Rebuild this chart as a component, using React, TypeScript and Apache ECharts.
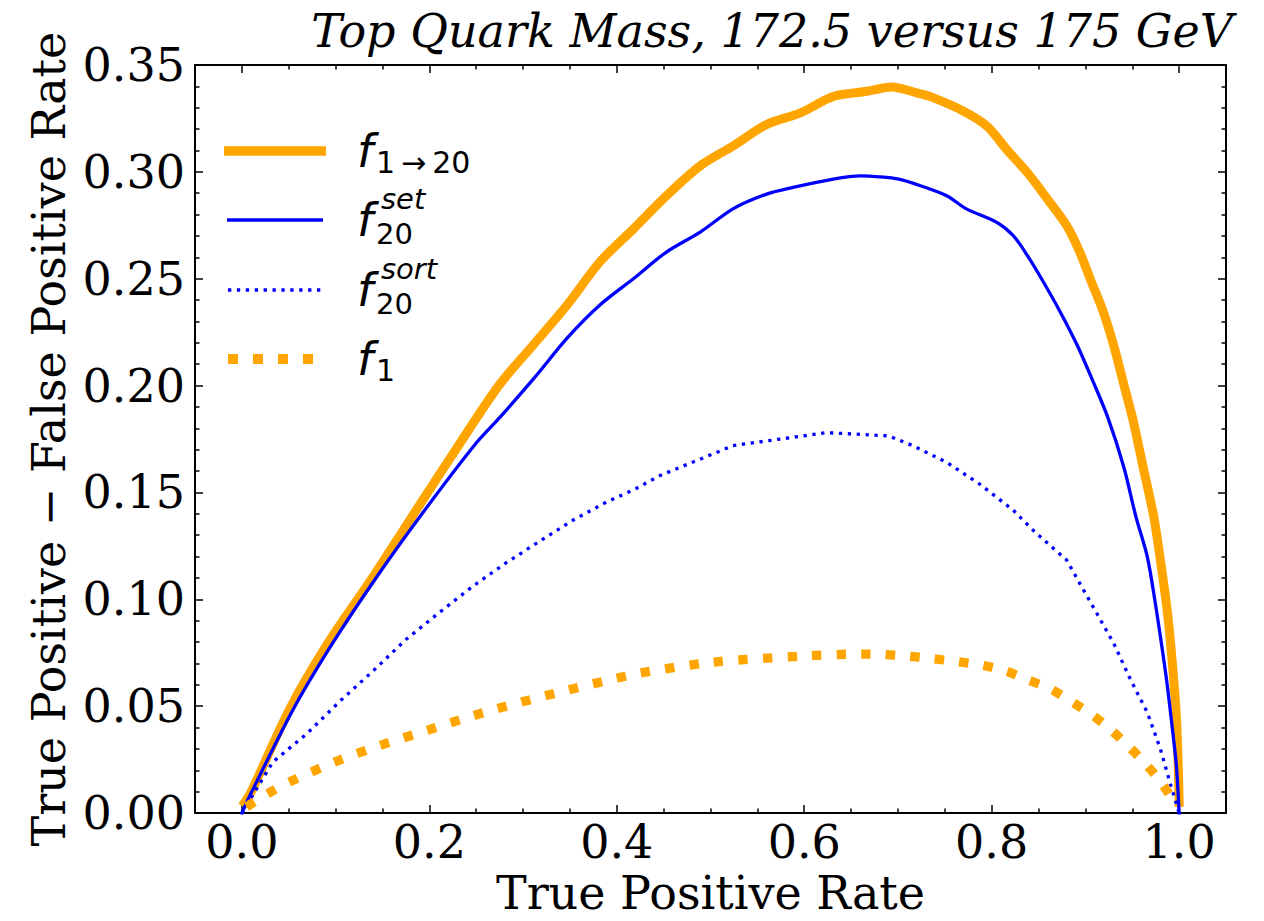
import React, { useEffect, useRef } from "react";
import * as echarts from "echarts";

// ---- tick values ----
const xMajorTicks = [0, 0.2, 0.4, 0.6, 0.8, 1.0];
const xMinorTicks = [0.05, 0.1, 0.15, 0.25, 0.3, 0.35, 0.45, 0.5, 0.55, 0.65, 0.7, 0.75, 0.85, 0.9, 0.95];

// ---- f_{1->20} (orange, thick solid) ----
const f120X = [0.003, 0.010, 0.051, 0.092, 0.140, 0.186, 0.232, 0.275, 0.311, 0.347, 0.382, 0.418, 0.453, 0.489, 0.524, 0.560, 0.596, 0.631, 0.667, 0.693, 0.720, 0.734, 0.770, 0.795, 0.816, 0.838, 0.862, 0.880, 0.894, 0.905, 0.919, 0.930, 0.941, 0.951, 0.962, 0.973, 0.981, 0.988, 0.993, 0.997, 0.999, 1.0];
const f120Y = [0.005, 0.010, 0.0487, 0.0796, 0.1106, 0.1417, 0.1726, 0.2005, 0.2191, 0.2377, 0.2579, 0.2734, 0.2888, 0.3028, 0.3121, 0.3222, 0.3276, 0.3353, 0.3377, 0.3397, 0.3370, 0.3353, 0.3284, 0.3214, 0.3105, 0.2997, 0.2858, 0.2749, 0.2625, 0.2501, 0.2346, 0.2191, 0.2005, 0.1835, 0.1610, 0.1385, 0.1153, 0.0920, 0.0688, 0.0456, 0.0223, 0.005];

// ---- f_20^set (blue, solid) ----
const fSetX = [0.0, 0.010, 0.055, 0.097, 0.144, 0.195, 0.249, 0.275, 0.312, 0.347, 0.382, 0.418, 0.453, 0.489, 0.524, 0.560, 0.588, 0.631, 0.660, 0.680, 0.701, 0.724, 0.752, 0.773, 0.805, 0.823, 0.838, 0.855, 0.873, 0.891, 0.908, 0.924, 0.941, 0.954, 0.966, 0.974, 0.981, 0.987, 0.992, 0.997, 1.0];
const fSetY = [0.0, 0.0095, 0.0487, 0.0796, 0.1106, 0.1417, 0.1726, 0.1850, 0.2036, 0.2222, 0.2377, 0.2501, 0.2625, 0.2718, 0.2827, 0.2896, 0.2927, 0.2966, 0.2981, 0.2977, 0.2966, 0.2935, 0.2888, 0.2827, 0.2765, 0.2702, 0.2609, 0.2486, 0.2346, 0.2191, 0.2021, 0.1850, 0.1618, 0.1385, 0.1200, 0.0998, 0.0796, 0.0610, 0.0424, 0.0223, 0.0];

// ---- f_20^sort (blue, dotted) ----
const fSortX = [0.0, 0.033, 0.069, 0.105, 0.140, 0.175, 0.210, 0.246, 0.281, 0.317, 0.353, 0.389, 0.420, 0.446, 0.524, 0.623, 0.690, 0.716, 0.752, 0.787, 0.823, 0.844, 0.866, 0.880, 0.894, 0.912, 0.930, 0.948, 0.966, 0.980, 0.990, 1.0];
const fSortY = [0.0, 0.0239, 0.0370, 0.0525, 0.0665, 0.0812, 0.0936, 0.1060, 0.1168, 0.1270, 0.1370, 0.1455, 0.1517, 0.1579, 0.1719, 0.1780, 0.1765, 0.1719, 0.1641, 0.1540, 0.1417, 0.1324, 0.1238, 0.1184, 0.1075, 0.0936, 0.0796, 0.0626, 0.0471, 0.0300, 0.0146, 0.0];

// ---- f_1 (orange, dotted) ----
const f1X = [0.005, 0.028, 0.051, 0.099, 0.147, 0.197, 0.247, 0.296, 0.348, 0.398, 0.423, 0.500, 0.600, 0.660, 0.684, 0.708, 0.736, 0.762, 0.788, 0.813, 0.837, 0.862, 0.884, 0.906, 0.926, 0.946, 0.964, 0.981, 0.995];
const f1Y = [0.003, 0.0092, 0.0146, 0.0239, 0.0316, 0.0386, 0.0456, 0.0517, 0.0576, 0.0629, 0.0654, 0.0705, 0.0735, 0.0744, 0.0742, 0.0735, 0.0723, 0.0709, 0.0693, 0.0668, 0.0626, 0.0582, 0.0525, 0.0463, 0.0394, 0.0313, 0.0231, 0.0143, 0.005];

const ORANGE = "#FFA500";
const BLUE = "#0000FF";
const SERIF = "DejaVu Serif";
const SANS = "DejaVu Sans";

const pairs = (xs: number[], ys: number[]) => xs.map((x, i) => [x, ys[i]]);

export default function App() {
  const ref = useRef<HTMLDivElement>(null);
  useEffect(() => {
    if (!ref.current) return;
    const chart = echarts.init(ref.current, null, { renderer: "svg" });

    const axisLineStyle = { color: "#000", width: 2 };
    const tickStyle = { color: "#000", width: 1.5 };
    const xAxisBase = (position: string, major: boolean, labels: boolean, line: boolean) => ({
      type: "value",
      min: -0.05,
      max: 1.05,
      position,
      axisLine: { show: line, onZero: false, lineStyle: axisLineStyle },
      axisTick: {
        show: true,
        inside: true,
        length: major ? 8 : 4.5,
        customValues: major ? xMajorTicks : xMinorTicks,
        lineStyle: tickStyle,
      },
      axisLabel: labels
        ? {
            show: true,
            customValues: xMajorTicks,
            formatter: (v: number) => v.toFixed(1),
            fontFamily: SERIF,
            fontSize: 46,
            color: "#000",
            margin: 6,
          }
        : { show: false },
      splitLine: { show: false },
    });

    const yAxisBase = (position: string, labels: boolean) => ({
      type: "value",
      min: 0,
      max: 0.35,
      interval: 0.05,
      position,
      axisLine: { show: true, onZero: false, lineStyle: axisLineStyle },
      axisTick: { show: true, inside: true, length: 8, lineStyle: tickStyle },
      minorTick: { show: true, splitNumber: 5, length: 4.5, lineStyle: tickStyle },
      axisLabel: labels
        ? {
            show: true,
            formatter: (v: number) => v.toFixed(2),
            fontFamily: SERIF,
            fontSize: 46,
            color: "#000",
            margin: 10,
          }
        : { show: false },
      splitLine: { show: false },
      minorSplitLine: { show: false },
    });

    const xMain: any = xAxisBase("bottom", true, true, true);
    xMain.name = "True Positive Rate";
    xMain.nameLocation = "middle";
    xMain.nameGap = 55;
    xMain.nameTextStyle = { fontFamily: SERIF, fontSize: 46, color: "#000" };

    const yMain: any = yAxisBase("left", true);
    yMain.name = "True Positive \u2212 False Positive Rate";
    yMain.nameLocation = "middle";
    yMain.nameRotate = 90;
    yMain.nameGap = 123;
    yMain.nameTextStyle = { fontFamily: SERIF, fontSize: 46, color: "#000" };

    const txt = (text: string, x: number, y: number, size: number, italic: boolean) => ({
      type: "text",
      x,
      y,
      silent: true,
      style: {
        text,
        fontFamily: SANS,
        fontSize: size,
        lineHeight: size,
        fontStyle: italic ? "italic" : "normal",
        fill: "#000",
        align: "left",
        verticalAlign: "middle",
      },
    });
    const legLine = (x1: number, x2: number, y: number, color: string, width: number, dash: number[] | null, cap: string) => ({
      type: "line",
      silent: true,
      shape: { x1, y1: y, x2, y2: y },
      style: { stroke: color, lineWidth: width, lineDash: dash || undefined, lineCap: cap },
    });

    const SUB = 29;
    const option: any = {
      animation: false,
      textStyle: { fontFamily: SERIF },
      title: {
        text: "Top Quark Mass, 172.5 versus 175 GeV",
        right: 31,
        top: 8,
        padding: 0,
        textStyle: { fontFamily: SERIF, fontStyle: "italic", fontWeight: "normal", fontSize: 46, color: "#000" },
      },
      grid: { left: 195, right: 38, top: 65, bottom: 103, containLabel: false },
      xAxis: [
        xMain,
        xAxisBase("bottom", false, false, false),
        xAxisBase("top", true, false, true),
        xAxisBase("top", false, false, false),
      ],
      yAxis: [yMain, yAxisBase("right", false)],
      series: [
        {
          name: "f_{1\u219220}",
          type: "line",
          xAxisIndex: 0,
          yAxisIndex: 0,
          data: pairs(f120X, f120Y),
          symbol: "none",
          smooth: 0.3,
          lineStyle: { color: ORANGE, width: 9, cap: "square", join: "round" },
        },
        {
          name: "f_20^set",
          type: "line",
          xAxisIndex: 0,
          yAxisIndex: 0,
          data: pairs(fSetX, fSetY),
          symbol: "none",
          smooth: 0.3,
          lineStyle: { color: BLUE, width: 3.3, cap: "square", join: "round" },
        },
        {
          name: "f_20^sort",
          type: "line",
          xAxisIndex: 0,
          yAxisIndex: 0,
          data: pairs(fSortX, fSortY),
          symbol: "none",
          lineStyle: { color: BLUE, width: 3.3, type: [3.3, 5.6], cap: "butt", join: "round" },
        },
        {
          name: "f_1",
          type: "line",
          xAxisIndex: 0,
          yAxisIndex: 0,
          data: pairs(f1X, f1Y),
          symbol: "none",
          smooth: 0.3,
          lineStyle: { color: ORANGE, width: 9.3, type: [9.3, 15.3], cap: "butt", join: "round" },
        },
      ],
      graphic: [
        legLine(224, 326, 151, ORANGE, 9.3, null, "butt"),
        legLine(227, 323, 220, BLUE, 3.3, null, "butt"),
        legLine(228, 323, 290, BLUE, 3.3, [3.3, 5.6], "butt"),
        legLine(228, 326, 359, ORANGE, 10, [10, 15], "butt"),
        txt("f", 357, 151, 46, true),
        txt("1\u2009\u2192\u200920", 376, 162, SUB + 1, false),
        txt("f", 357, 220, 46, true),
        txt("set", 381, 199, SUB, true),
        txt("20", 376, 234, SUB, false),
        txt("f", 357, 290, 46, true),
        txt("sort", 381, 269, SUB, true),
        txt("20", 376, 304, SUB, false),
        txt("f", 357, 359, 46, true),
        txt("1", 376, 370, SUB + 1, false),
      ],
    };
    chart.setOption(option);
    return () => chart.dispose();
  }, []);

  return (
    <div
      ref={ref}
      style={{ position: "fixed", left: 0, top: 0, width: 1264, height: 921, background: "#fff" }}
    />
  );
}
